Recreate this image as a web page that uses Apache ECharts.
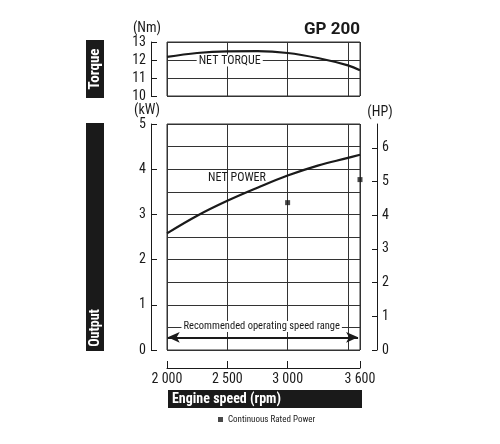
<!DOCTYPE html>
<html>
<head>
<meta charset="utf-8">
<script src="https://cdn.jsdelivr.net/npm/echarts@6/dist/echarts.min.js"></script>
<style>
  html, body { margin: 0; padding: 0; background: #fff; }
  #chart { width: 500px; height: 444px; }
</style>
</head>
<body>
<div id="chart"></div>
<script>
// engine speed (rpm) and curves
var speeds = [2000, 2250, 2500, 2750, 3000, 3250, 3500, 3600];
var torqueNm = [12.17, 12.39, 12.48, 12.49, 12.39, 12.11, 11.7, 11.43];
var powerKw = [2.58, 2.97, 3.30, 3.59, 3.86, 4.08, 4.25, 4.32];
// continuous rated power points
var ratedSpeeds = [3000, 3600];
var ratedKw = [3.26, 3.77];
var speedTicks = [2000, 2500, 3000, 3600];
var kwPerHp = 0.7457;

var narrow = "'Roboto Condensed', sans-serif";
var ink = '#1a1a1a';
var gridCol = '#333';

function pairs(xs, ys) {
  return xs.map(function (x, i) { return [x, ys[i]]; });
}
function spaced(v) {
  // 2000 -> "2 000"
  var s = String(v);
  return s.length > 3 ? s.slice(0, s.length - 3) + ' ' + s.slice(-3) : s;
}

var chart = echarts.init(document.getElementById('chart'));

var option = {
  backgroundColor: '#fff',
  animation: false,
  textStyle: { fontFamily: narrow, color: ink },
  title: {
    text: 'GP 200',
    right: 140, top: 21, padding: 0,
    textStyle: { fontFamily: 'Roboto, sans-serif', fontSize: 17, fontWeight: 'bold', color: ink }
  },
  legend: {
    left: 213, top: 410,
    itemWidth: 5, itemHeight: 5, itemGap: 3,
    data: [{ name: 'Continuous Rated Power', icon: 'rect' }],
    textStyle: { fontFamily: narrow, fontSize: 9, color: ink }
  },
  grid: [
    { left: 167, top: 42, width: 193, height: 54, show: true, borderColor: gridCol, borderWidth: 1 },
    { left: 167, top: 124, width: 193, height: 226, show: true, borderColor: gridCol, borderWidth: 1 }
  ],
  xAxis: [
    {
      type: 'value', gridIndex: 0, min: 2000, max: 3600, interval: 500,
      axisLine: { show: false }, axisTick: { show: false }, axisLabel: { show: false },
      splitLine: { show: true, lineStyle: { color: gridCol, width: 1 } }
    },
    {
      type: 'value', gridIndex: 1, min: 2000, max: 3600, interval: 500,
      axisLine: { show: false }, axisTick: { show: false }, axisLabel: { show: false },
      splitLine: { show: true, lineStyle: { color: gridCol, width: 1 } }
    },
    {
      type: 'value', gridIndex: 1, min: 2000, max: 3600, position: 'bottom', offset: 18,
      axisLine: { show: true, onZero: false, lineStyle: { color: ink, width: 1 } },
      axisTick: { show: true, inside: true, length: 7, customValues: speedTicks, lineStyle: { color: ink } },
      axisLabel: { customValues: speedTicks, margin: 4, fontSize: 14, color: ink, formatter: spaced },
      splitLine: { show: false }
    }
  ],
  yAxis: [
    {
      type: 'value', gridIndex: 0, min: 10, max: 13, interval: 1, position: 'left', offset: 16,
      name: '(Nm)', nameLocation: 'end', nameGap: 5,
      nameTextStyle: { fontSize: 14, color: ink, align: 'center', padding: [0, 8, 0, 0] },
      axisLine: { show: true, onZero: false, lineStyle: { color: ink, width: 1 } },
      axisTick: { show: true, inside: true, length: 6, lineStyle: { color: ink } },
      axisLabel: { fontSize: 14, color: ink, margin: 5 },
      splitLine: { show: true, lineStyle: { color: gridCol, width: 1 } }
    },
    {
      type: 'value', gridIndex: 1, min: 0, max: 5, interval: 1, position: 'left', offset: 16,
      name: '(kW)', nameLocation: 'end', nameGap: 3,
      nameTextStyle: { fontSize: 14, color: ink, align: 'center', padding: [0, 8, 0, 0] },
      axisLine: { show: true, onZero: false, lineStyle: { color: ink, width: 1 } },
      axisTick: { show: true, inside: true, length: 6, lineStyle: { color: ink } },
      axisLabel: { fontSize: 14, color: ink, margin: 5 },
      minorTick: { show: false, splitNumber: 2 },
      splitLine: { show: true, lineStyle: { color: gridCol, width: 1 } },
      minorSplitLine: { show: true, lineStyle: { color: gridCol, width: 1 } }
    },
    {
      type: 'value', gridIndex: 1, min: 0, max: 5 / kwPerHp, interval: 1, position: 'right', offset: 17,
      name: '(HP)', nameLocation: 'end', nameGap: 5,
      nameTextStyle: { fontSize: 14, color: ink, align: 'center', padding: [0, 0, 0, 6] },
      axisLine: { show: true, onZero: false, lineStyle: { color: ink, width: 1 } },
      axisTick: { show: true, inside: true, length: 5, lineStyle: { color: ink } },
      axisLabel: { fontSize: 14, color: ink, margin: 5, showMaxLabel: false },
      splitLine: { show: false }
    }
  ],
  series: [
    {
      name: 'Net torque', type: 'line', xAxisIndex: 0, yAxisIndex: 0,
      data: pairs(speeds, torqueNm), smooth: 0.4, showSymbol: false, silent: true,
      lineStyle: { color: ink, width: 2.2 },
      markPoint: {
        symbolSize: 0, silent: true,
        data: [{ coord: [2520, 11.97], value: 'NET TORQUE' }],
        label: {
          show: true, position: 'inside', formatter: '{c}',
          fontFamily: narrow, fontSize: 12, color: ink, backgroundColor: '#fff', padding: [0, 2]
        }
      }
    },
    {
      name: 'Net power', type: 'line', xAxisIndex: 1, yAxisIndex: 1,
      data: pairs(speeds, powerKw), smooth: 0.4, showSymbol: false, silent: true,
      lineStyle: { color: ink, width: 2.2 },
      markPoint: {
        symbolSize: 0, silent: true,
        data: [
          { coord: [2580, 3.8], value: 'NET POWER', label: { fontSize: 12, backgroundColor: 'transparent' } },
          { coord: [2785, 0.52], value: 'Recommended operating speed range' }
        ],
        label: {
          show: true, position: 'inside', formatter: '{c}',
          fontFamily: narrow, fontSize: 10.5, color: ink, backgroundColor: '#fff', padding: [0, 2]
        }
      },
      markLine: {
        silent: true, symbol: ['arrow', 'arrow'], symbolSize: [8, 12],
        label: { show: false },
        lineStyle: { color: ink, width: 2, type: 'solid' },
        data: [[{ coord: [2006, 0.28] }, { coord: [3584, 0.28] }]]
      }
    },
    {
      name: 'Continuous Rated Power', type: 'scatter', xAxisIndex: 1, yAxisIndex: 1,
      data: pairs(ratedSpeeds, ratedKw), symbol: 'rect', symbolSize: 5, silent: true,
      itemStyle: { color: ink }
    }
  ],
  graphic: [
    { type: 'rect', shape: { x: 86, y: 40, width: 18, height: 58 }, style: { fill: ink } },
    {
      type: 'text', x: 95, y: 69, rotation: Math.PI / 2,
      style: { text: 'Torque', fill: '#fff', font: "bold 15px 'Roboto Condensed'", align: 'center', verticalAlign: 'middle' }
    },
    { type: 'rect', shape: { x: 86, y: 123, width: 18, height: 228 }, style: { fill: ink } },
    {
      type: 'text', x: 95, y: 328, rotation: Math.PI / 2,
      style: { text: 'Output', fill: '#fff', font: "bold 14px 'Roboto Condensed'", align: 'center', verticalAlign: 'middle' }
    },
    { type: 'rect', shape: { x: 168, y: 390, width: 194, height: 18 }, style: { fill: ink } },
    {
      type: 'text', x: 172, y: 399,
      style: { text: 'Engine speed (rpm)', fill: '#fff', font: "bold 14px 'Roboto Condensed'", align: 'left', verticalAlign: 'middle' }
    }
  ]
};

chart.setOption(option);
</script>
</body>
</html>
